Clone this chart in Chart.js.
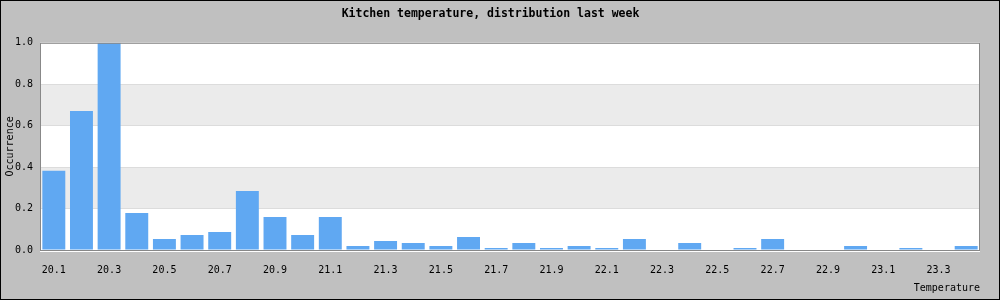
<!DOCTYPE html>
<html lang="en">
<head>
  <meta charset="UTF-8" />
  <title>Kitchen temperature</title>
  <script src="https://cdn.jsdelivr.net/npm/chart.js"></script>
  <style>
    * { margin: 0; padding: 0; box-sizing: border-box; }
    body { background: #fff; }
    .wrap {
      width: 1000px;
      height: 300px;
      border: 1px solid #000;
      background: #c0c0c0;
    }
    canvas { display: block; }
  </style>
</head>
<body>
  <div class="wrap">
    <canvas id="histChart" width="998" height="298"></canvas>
  </div>

  <script>
    const temperatures = ['20.1', '20.2', '20.3', '20.4', '20.5', '20.6', '20.7', '20.8', '20.9', '21.0',
                          '21.1', '21.2', '21.3', '21.4', '21.5', '21.6', '21.7', '21.8', '21.9', '22.0',
                          '22.1', '22.2', '22.3', '22.4', '22.5', '22.6', '22.7', '22.8', '22.9', '23.0',
                          '23.1', '23.2', '23.3', '23.4'];
    const occurrence = [0.382, 0.671, 1.0, 0.179, 0.053, 0.072, 0.087, 0.285, 0.159, 0.072,
                        0.159, 0.019, 0.043, 0.034, 0.019, 0.063, 0.010, 0.034, 0.010, 0.019,
                        0.010, 0.053, 0, 0.034, 0, 0.010, 0.053, 0, 0, 0.019,
                        0, 0.010, 0, 0.019];
    const yTicks = [0, 0.2, 0.4, 0.6, 0.8, 1.0];

    const mono = "'DejaVu Sans Mono', monospace";

    // alternating bands + plot frame
    const plotFrame = {
      id: 'plotFrame',
      beforeDraw(chart) {
        const { ctx, chartArea: a, scales: { y } } = chart;
        ctx.save();
        ctx.fillStyle = '#fff';
        ctx.fillRect(a.left, a.top, a.right - a.left, a.bottom - a.top);
        ctx.fillStyle = '#ebebeb';
        for (let i = 1; i < yTicks.length - 1; i += 2) {
          const top = y.getPixelForValue(yTicks[i + 1]);
          const bot = y.getPixelForValue(yTicks[i]);
          ctx.fillRect(a.left, top, a.right - a.left, bot - top);
        }
        ctx.restore();
      },
      afterDraw(chart) {
        const { ctx, chartArea: a } = chart;
        ctx.save();
        ctx.strokeStyle = '#888';
        ctx.lineWidth = 1;
        ctx.strokeRect(a.left + 0.5, a.top + 0.5, a.right - a.left - 1, a.bottom - a.top);
        ctx.strokeStyle = '#fff';
        ctx.beginPath();
        ctx.moveTo(a.left, a.bottom + 1.5);
        ctx.lineTo(a.right, a.bottom + 1.5);
        ctx.stroke();
        ctx.restore();
      }
    };

    new Chart(document.getElementById('histChart').getContext('2d'), {
      type: 'bar',
      data: {
        labels: temperatures,
        datasets: [{
          data: occurrence,
          backgroundColor: '#60a8f2',
          borderWidth: 0,
          barPercentage: 0.83,
          categoryPercentage: 1
        }]
      },
      options: {
        responsive: false,
        animation: false,
        layout: { padding: { top: 0, right: 19, bottom: 0, left: 0 } },
        plugins: {
          legend: { display: false },
          tooltip: { enabled: false },
          title: {
            display: true,
            text: 'Kitchen temperature, distribution last week',
            color: '#000',
            font: { family: mono, size: 11.5, weight: 'bold', lineHeight: 1.2 },
            padding: { top: 6, bottom: 22 }
          }
        },
        scales: {
          x: {
            grid: { display: false },
            border: { display: false },
            afterFit(scale) { scale.height = 49; },
            ticks: {
              color: '#000',
              font: { family: mono, size: 10 },
              autoSkip: false,
              maxRotation: 0,
              padding: 6,
              callback(value, index) {
                return index % 2 === 0 ? this.getLabelForValue(value) : '';
              }
            },
            title: {
              display: true,
              text: 'Temperature',
              align: 'end',
              color: '#000',
              font: { family: mono, size: 10, lineHeight: 1.2 },
              padding: { top: 0, bottom: 5 }
            }
          },
          y: {
            min: 0,
            max: 1,
            afterFit(scale) { scale.width = 39; },
            afterBuildTicks(scale) { scale.ticks = yTicks.map(v => ({ value: v })); },
            grid: { color: '#dcdcdc', drawTicks: false },
            border: { display: false },
            ticks: {
              color: '#000',
              font: { family: mono, size: 10 },
              padding: 7,
              callback: v => v.toFixed(1)
            },
            title: {
              display: true,
              text: 'Occurrence',
              color: '#000',
              font: { family: mono, size: 10, lineHeight: 1.2 },
              padding: { top: 3, bottom: 0 }
            }
          }
        }
      },
      plugins: [plotFrame]
    });
  </script>
</body>
</html>
